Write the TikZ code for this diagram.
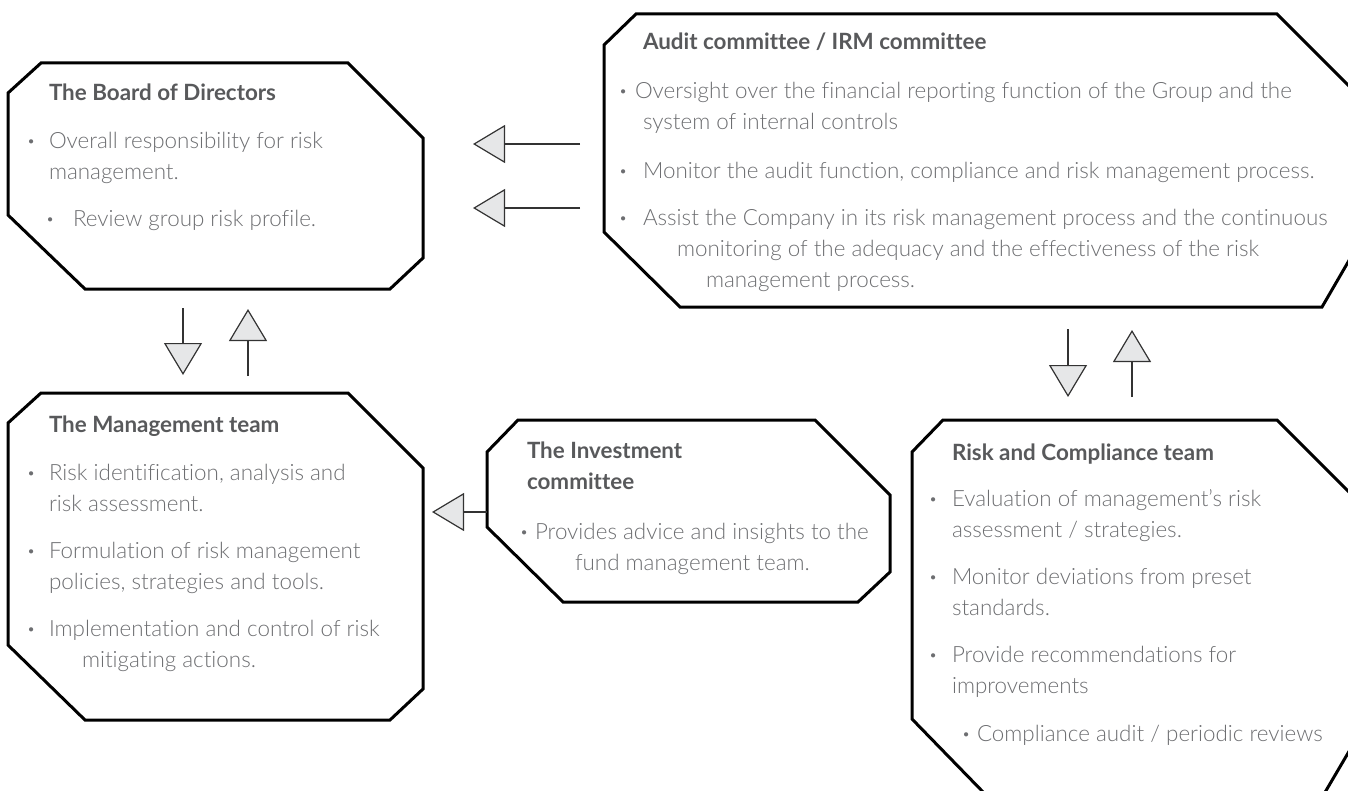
\documentclass[tikz,border=0pt]{standalone}
\usepackage{fontspec}
\IfFontExistsTF{Lato Light}{%
	\setmainfont{Lato Light}[BoldFont=Lato Bold, Ligatures=NoCommon]}{%
	\setmainfont{Lato}}
\usetikzlibrary{arrows.meta,positioning}
\definecolor{ttlColor}{HTML}{58595B}
\definecolor{txtColor}{HTML}{6D6E71}
\definecolor{tipColor}{HTML}{E6E7E8}
\newcommand{\ttl}[1]{{\bfseries\color{ttlColor}#1}}
\newcommand{\bul}[1][10.5pt]{\makebox[#1][l]{\bfseries·}}
\tikzset{
	box/.style={draw=black, line width=1.5pt, line join=miter},
	% base anchor sits on the last line of a block
	txt/.style={anchor=base west, inner sep=0, outer sep=0, align=left,
		text=txtColor, font=\fontsize{11.2}{15.5}\selectfont},
	flow/.style={draw=black!80, line width=1pt,
		-{Triangle[length=16pt, width=19pt, fill=tipColor, line width=0.6pt]}}
}

\begin{document}
\begin{tikzpicture}[x=0.5pt, y=-0.5pt]
	\useasboundingbox (0,0) rectangle (1348,791);
	\clip (0,0) rectangle (1348,791);
	% boxes
	\draw[box] (8,93) -- (41,63) -- (348,63) -- (423,138) -- (423,258) -- (390,289) -- (85,289) -- (8,215) -- cycle;
	\draw[box] (604,45) -- (636,14) -- (1277,14) -- (1351,88) -- (1351,257) -- (1322,307) -- (680,307) -- (604,232) -- cycle;
	\draw[box] (8,423) -- (41,393) -- (348,393) -- (423,468) -- (423,689) -- (390,720) -- (85,720) -- (8,645) -- cycle;
	\draw[box] (487,452) -- (518,420) -- (815,420) -- (890,495) -- (890,572) -- (858,602) -- (563,602) -- (487,527) -- cycle;
	\draw[box] (912,452) -- (943,420) -- (1277,420) -- (1351,494) -- (1351,748) -- (1324,794) -- (985,794) -- (912,719) -- cycle;
	% texts
	\node[txt] (board) at (28,227) {\hspace*{10.5pt}\ttl{The Board of Directors}\\[8.5pt]
		\bul Overall responsibility for risk\\
		\hspace*{10.5pt}management.\\[8pt]
		\hspace*{9.5pt}\bul[13pt]Review group risk profile.};
	\node[txt] (audit) at (620,287) {\hspace*{11.5pt}\ttl{Audit committee / IRM committee}\\[9pt]
		\bul[7.5pt]Oversight over the financial reporting function of the Group and the\\
		\hspace*{11.5pt}system of internal controls\\[9pt]
		\bul[11.5pt]Monitor the audit function, compliance and risk management process.\\[8pt]
		\bul[11.5pt]Assist the Company in its risk management process and the continuous\\
		\hspace*{28.5pt}monitoring of the adequacy and the effectiveness of the risk\\
		\hspace*{43pt}management process.};
	\node[txt] (mgmt) at (28,667) {\hspace*{10.5pt}\ttl{The Management team}\\[8.5pt]
		\bul Risk identification, analysis and\\
		\hspace*{10.5pt}risk assessment.\\[8pt]
		\bul Formulation of risk management\\
		\hspace*{10.5pt}policies, strategies and tools.\\[8pt]
		\bul Implementation and control of risk\\
		\hspace*{27pt}mitigating actions.};
	\node[txt] (invest) at (521,570) {\hspace*{3pt}\ttl{The Investment}\\
		\hspace*{3pt}\ttl{committee}\\[9.5pt]
		\bul[7pt]Provides advice and insights to the\\
		\hspace*{27pt}fund management team.};
	\node[txt] (risk) at (930,741) {\hspace*{11pt}\ttl{Risk and Compliance team}\\[7.5pt]
		\bul[11pt]Evaluation of management’s risk\\
		\hspace*{11pt}assessment / strategies.\\[8pt]
		\bul[11pt]Monitor deviations from preset\\
		\hspace*{11pt}standards.\\[8pt]
		\bul[11pt]Provide recommendations for\\
		\hspace*{11pt}improvements\\[8.5pt]
		\hspace*{16.5pt}\bul[7pt]Compliance audit / periodic reviews};
	% arrows
	\coordinate (ab1) at (580,144);  \coordinate (ba1) at (473,144);
	\coordinate (ab2) at (580,208);  \coordinate (ba2) at (473,208);
	\coordinate (bm1) at (183,308);  \coordinate (mb1) at (183,375);
	\coordinate (mb2) at (248,376);  \coordinate (bm2) at (248,309);
	\coordinate (ar1) at (1068,329); \coordinate (ra1) at (1068,397);
	\coordinate (ra2) at (1132,397); \coordinate (ar2) at (1132,330);
	\coordinate (im) at (487,512);   \coordinate (mi) at (432,512);
	\draw[flow] (ab1) -- (ba1);
	\draw[flow] (ab2) -- (ba2);
	\draw[flow] (bm1) -- (mb1);
	\draw[flow] (mb2) -- (bm2);
	\draw[flow] (ar1) -- (ra1);
	\draw[flow] (ra2) -- (ar2);
	\draw[flow] (im) -- (mi);
\end{tikzpicture}
\end{document}
